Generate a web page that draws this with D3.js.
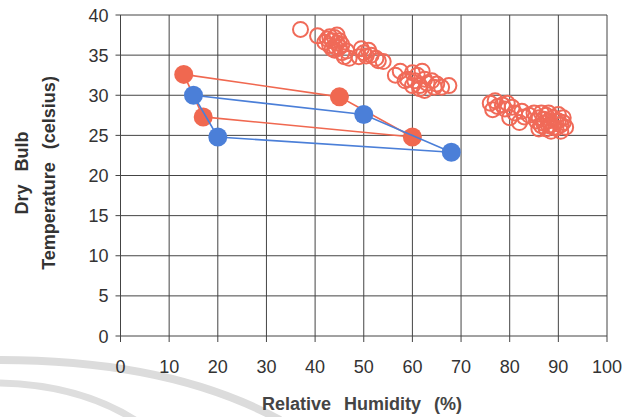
<!DOCTYPE html>
<html>
<head>
<meta charset="utf-8">
<script src="https://cdn.jsdelivr.net/npm/d3@7"></script>
<style>
body { margin:0; background:#fff; }
svg text { font-family: "Liberation Sans", Arial, sans-serif; }
</style>
</head>
<body>
<svg id="chart" width="637" height="417"></svg>
<script>
// data
var xTicks = [0,10,20,30,40,50,60,70,80,90,100];
var yTicks = [0,5,10,15,20,25,30,35,40];

// filled series (closed loops)
var redRH  = [13, 45, 60, 17, 13];
var redT   = [32.6, 29.8, 24.8, 27.3, 32.6];
var blueRH = [15, 50, 68, 20, 15];
var blueT  = [30.0, 27.6, 22.9, 24.8, 30.0];

// open circles
var openRH = [37, 40.5, 42.5, 43.5, 44, 44.5, 43, 45, 44, 45.5, 46, 43.5, 45,
  42, 43, 44.5, 45.5, 46.5, 44.2, 47,
  49.5, 50, 50.5, 51.5, 52.5, 49, 54, 51, 53,
  56.5, 57.5, 59, 60, 60.5, 61, 61.5, 62, 62.5, 63, 64, 65, 66, 67.5, 61.5,
  58.5, 60, 62.5, 64.5,
  76, 76.5, 77, 78.5, 79.5, 80.5, 81, 82, 82.5, 84, 85, 86, 86.5, 87, 87.5, 88, 88.5, 89, 89.5, 90, 90.5, 91, 91, 88, 87,
  77.5, 79, 80, 83, 85.5, 86, 87.5, 88.5, 89, 90, 91.5, 90.5, 88, 89.5, 86.5];
var openT = [38.2, 37.4, 37.0, 36.8, 37.2, 36.5, 36.2, 36.0, 35.6, 35.3, 34.8, 35.8, 36.8,
  36.6, 37.3, 37.5, 36.3, 35.5, 36.0, 34.6,
  35.8, 35.3, 34.9, 35.0, 34.6, 34.8, 34.2, 35.6, 34.3,
  32.5, 33.0, 32.0, 32.8, 31.8, 32.5, 31.2, 33.0, 32.0, 31.5, 31.8, 31.4, 31.0, 31.2, 30.8,
  31.8, 31.2, 30.6, 31.0,
  29.0, 28.2, 29.3, 28.8, 29.0, 28.5, 27.8, 26.6, 28.0, 27.5, 27.8, 27.2, 26.2, 27.0, 25.8, 26.8, 26.3, 27.2, 25.9, 26.8, 26.3, 26.6, 27.2, 27.8, 26.5,
  28.6, 28.3, 27.2, 27.3, 26.8, 25.8, 27.5, 25.5, 26.0, 27.6, 26.0, 25.5, 26.2, 26.8, 27.8];

var svg = d3.select("#chart");
var x = d3.scaleLinear().domain([0,100]).range([120.5,607]);
var y = d3.scaleLinear().domain([0,40]).range([336,15]);

// watermark arcs
svg.append("path").attr("d","M0,360 Q170,360 280,420")
  .attr("fill","none").attr("stroke","#dcdcdc").attr("stroke-width",8);
svg.append("path").attr("d","M0,383 Q80,385 135,420")
  .attr("fill","none").attr("stroke","#dedede").attr("stroke-width",7);

// grid
svg.selectAll(".vg").data(xTicks).enter().append("line")
  .attr("x1",function(d){return x(d)}).attr("x2",function(d){return x(d)})
  .attr("y1",y(40)).attr("y2",y(0)+6)
  .attr("stroke","#444").attr("stroke-width",1);
svg.selectAll(".hg").data(yTicks).enter().append("line")
  .attr("x1",x(0)-5).attr("x2",x(100))
  .attr("y1",function(d){return y(d)}).attr("y2",function(d){return y(d)})
  .attr("stroke","#444").attr("stroke-width",1);

// tick labels
svg.selectAll(".xl").data(xTicks).enter().append("text")
  .attr("x",function(d){return x(d)}).attr("y",y(0)+37)
  .attr("text-anchor","middle").attr("font-size",18).attr("fill","#333")
  .text(function(d){return d});
svg.selectAll(".yl").data(yTicks).enter().append("text")
  .attr("x",x(0)-12).attr("y",function(d){return y(d)+6.5})
  .attr("text-anchor","end").attr("font-size",18).attr("fill","#333")
  .text(function(d){return d});

// axis titles
svg.append("text").attr("x",362).attr("y",410)
  .attr("text-anchor","middle").attr("font-size",18).attr("font-weight","bold")
  .attr("fill","#444").attr("word-spacing",8)
  .text("Relative Humidity (%)");
var yt = svg.append("g").attr("transform","translate(0,173) rotate(-90)");
yt.append("text").attr("x",0).attr("y",28)
  .attr("text-anchor","middle").attr("font-size",18).attr("font-weight","bold")
  .attr("fill","#333").attr("word-spacing",8).text("Dry Bulb");
yt.append("text").attr("x",0).attr("y",55)
  .attr("text-anchor","middle").attr("font-size",18).attr("font-weight","bold")
  .attr("fill","#333").attr("word-spacing",8).text("Temperature (celsius)");

// open circles
svg.selectAll(".oc").data(openRH).enter().append("circle")
  .attr("cx",function(d){return x(d)})
  .attr("cy",function(d,i){return y(openT[i])})
  .attr("r",7.5).attr("fill","none")
  .attr("stroke","#f06a58").attr("stroke-width",2);

function series(rh, t, color) {
  var pts = rh.map(function(d,i){return [x(d), y(t[i])]});
  svg.append("path").attr("d", d3.line()(pts))
    .attr("fill","none").attr("stroke",color).attr("stroke-width",1.6);
  svg.selectAll(null).data(pts.slice(0,pts.length-1)).enter().append("circle")
    .attr("cx",function(d){return d[0]}).attr("cy",function(d){return d[1]})
    .attr("r",9.5).attr("fill",color);
}
series(redRH, redT, "#f06850");
series(blueRH, blueT, "#4b7fd8");
</script>
</body>
</html>
